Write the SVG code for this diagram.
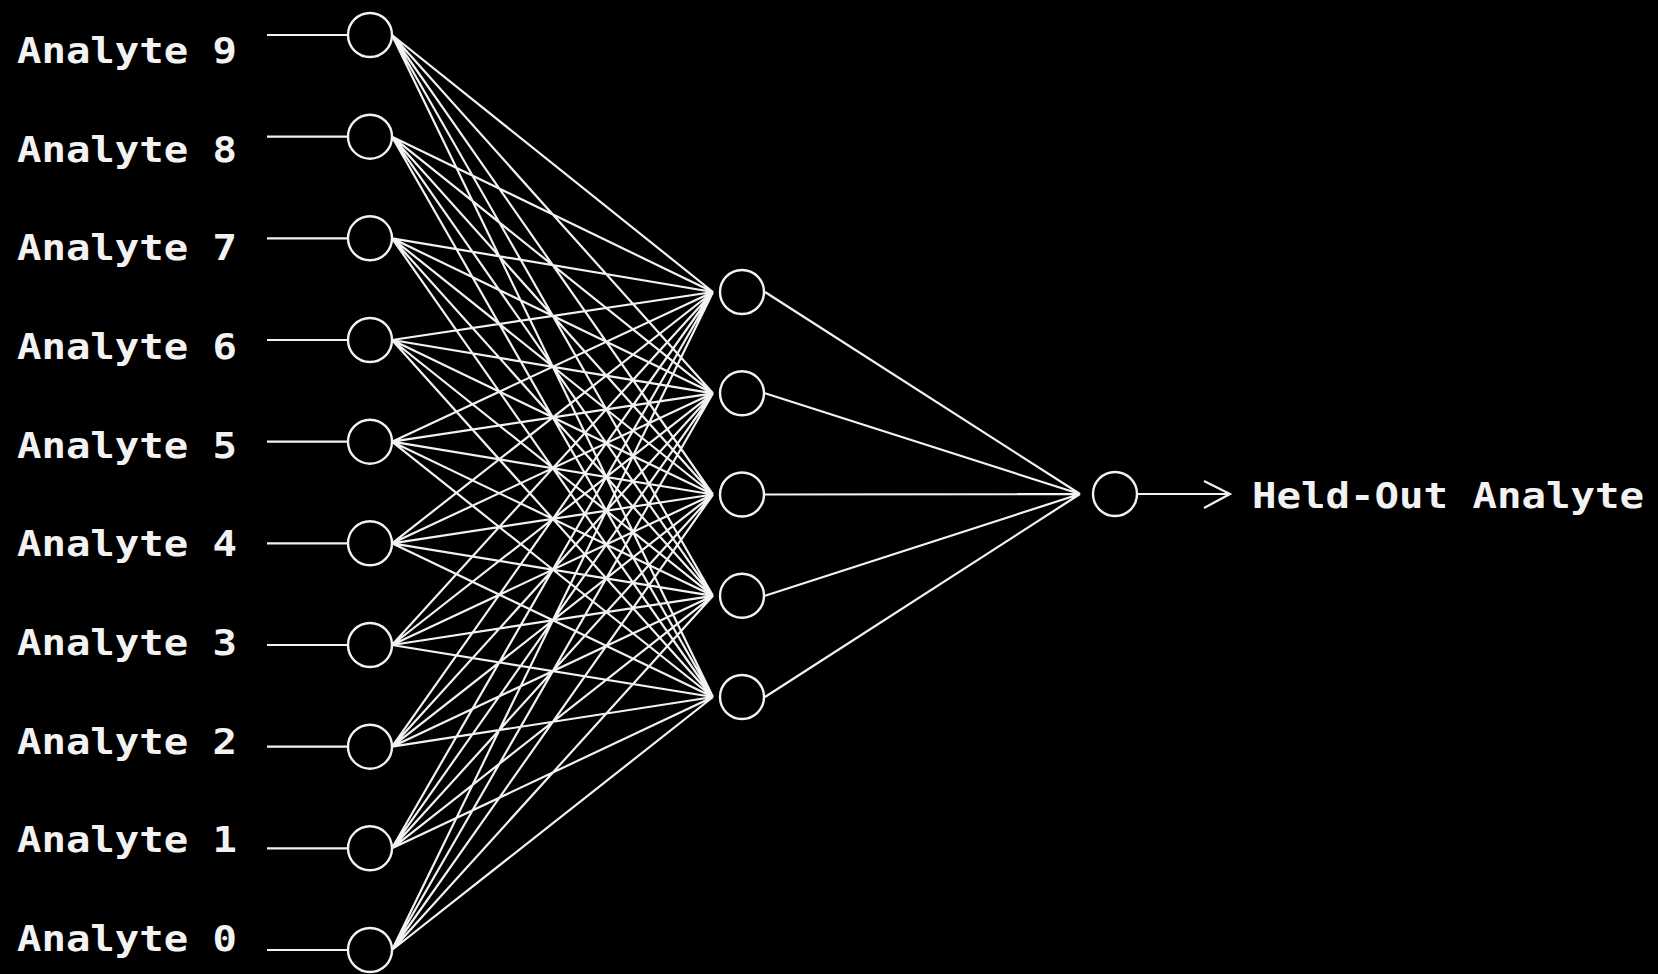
<svg xmlns="http://www.w3.org/2000/svg" width="1658" height="974" viewBox="0 0 1658 974">
<style>
.bg{fill:#000}
.n{fill:none;stroke:#f2f2f2;stroke-width:2.4}
.c line,.c path{stroke:#f2f2f2;stroke-width:2.2;fill:none}
.t{fill:#f2f2f2;font-family:"DejaVu Sans Mono","Liberation Mono",monospace;font-weight:bold;font-size:36px}
</style>
<rect class="bg" x="0" y="0" width="1658" height="974"/>
<g id="connectors" class="c">
<line x1="267" y1="35" x2="348" y2="35"/>
<line x1="267" y1="136.7" x2="348" y2="136.7"/>
<line x1="267" y1="238.3" x2="348" y2="238.3"/>
<line x1="267" y1="340" x2="348" y2="340"/>
<line x1="267" y1="441.7" x2="348" y2="441.7"/>
<line x1="267" y1="543.3" x2="348" y2="543.3"/>
<line x1="267" y1="645" x2="348" y2="645"/>
<line x1="267" y1="746.7" x2="348" y2="746.7"/>
<line x1="267" y1="848.3" x2="348" y2="848.3"/>
<line x1="267" y1="950" x2="348" y2="950"/>
<path d="M392 35L713 292M392 35L713 393.3M392 35L713 494.5M392 35L713 595.8M392 35L713 697
M392 136.7L713 292M392 136.7L713 393.3M392 136.7L713 494.5M392 136.7L713 595.8M392 136.7L713 697
M392 238.3L713 292M392 238.3L713 393.3M392 238.3L713 494.5M392 238.3L713 595.8M392 238.3L713 697
M392 340L713 292M392 340L713 393.3M392 340L713 494.5M392 340L713 595.8M392 340L713 697
M392 441.7L713 292M392 441.7L713 393.3M392 441.7L713 494.5M392 441.7L713 595.8M392 441.7L713 697
M392 543.3L713 292M392 543.3L713 393.3M392 543.3L713 494.5M392 543.3L713 595.8M392 543.3L713 697
M392 645L713 292M392 645L713 393.3M392 645L713 494.5M392 645L713 595.8M392 645L713 697
M392 746.7L713 292M392 746.7L713 393.3M392 746.7L713 494.5M392 746.7L713 595.8M392 746.7L713 697
M392 848.3L713 292M392 848.3L713 393.3M392 848.3L713 494.5M392 848.3L713 595.8M392 848.3L713 697
M392 950L713 292M392 950L713 393.3M392 950L713 494.5M392 950L713 595.8M392 950L713 697"/>
<path d="M765 292L1080 494M765 393.3L1080 494M765 494.5L1080 494M765 595.8L1080 494M765 697L1080 494"/>
<line x1="1138" y1="494" x2="1229" y2="494"/>
<path d="M1204 481L1230 494L1204 508"/>
</g>
<g id="in9"><circle class="n" cx="370" cy="35" r="22"/><text class="t" x="17" y="63" textLength="220" lengthAdjust="spacingAndGlyphs">Analyte 9</text></g>
<g id="in8"><circle class="n" cx="370" cy="136.7" r="22"/><text class="t" x="17" y="161.7" textLength="220" lengthAdjust="spacingAndGlyphs">Analyte 8</text></g>
<g id="in7"><circle class="n" cx="370" cy="238.3" r="22"/><text class="t" x="17" y="260.3" textLength="220" lengthAdjust="spacingAndGlyphs">Analyte 7</text></g>
<g id="in6"><circle class="n" cx="370" cy="340" r="22"/><text class="t" x="17" y="359" textLength="220" lengthAdjust="spacingAndGlyphs">Analyte 6</text></g>
<g id="in5"><circle class="n" cx="370" cy="441.7" r="22"/><text class="t" x="17" y="457.7" textLength="220" lengthAdjust="spacingAndGlyphs">Analyte 5</text></g>
<g id="in4"><circle class="n" cx="370" cy="543.3" r="22"/><text class="t" x="17" y="556.3" textLength="220" lengthAdjust="spacingAndGlyphs">Analyte 4</text></g>
<g id="in3"><circle class="n" cx="370" cy="645" r="22"/><text class="t" x="17" y="655" textLength="220" lengthAdjust="spacingAndGlyphs">Analyte 3</text></g>
<g id="in2"><circle class="n" cx="370" cy="746.7" r="22"/><text class="t" x="17" y="753.7" textLength="220" lengthAdjust="spacingAndGlyphs">Analyte 2</text></g>
<g id="in1"><circle class="n" cx="370" cy="848.3" r="22"/><text class="t" x="17" y="852.3" textLength="220" lengthAdjust="spacingAndGlyphs">Analyte 1</text></g>
<g id="in0"><circle class="n" cx="370" cy="950" r="22"/><text class="t" x="17" y="951" textLength="220" lengthAdjust="spacingAndGlyphs">Analyte 0</text></g>
<g id="h1"><circle class="n" cx="742" cy="292" r="22"/></g>
<g id="h2"><circle class="n" cx="742" cy="393.3" r="22"/></g>
<g id="h3"><circle class="n" cx="742" cy="494.5" r="22"/></g>
<g id="h4"><circle class="n" cx="742" cy="595.8" r="22"/></g>
<g id="h5"><circle class="n" cx="742" cy="697" r="22"/></g>
<g id="out"><circle class="n" cx="1115" cy="494" r="22"/><text class="t" x="1252" y="508" textLength="392" lengthAdjust="spacingAndGlyphs">Held-Out Analyte</text></g>
</svg>
